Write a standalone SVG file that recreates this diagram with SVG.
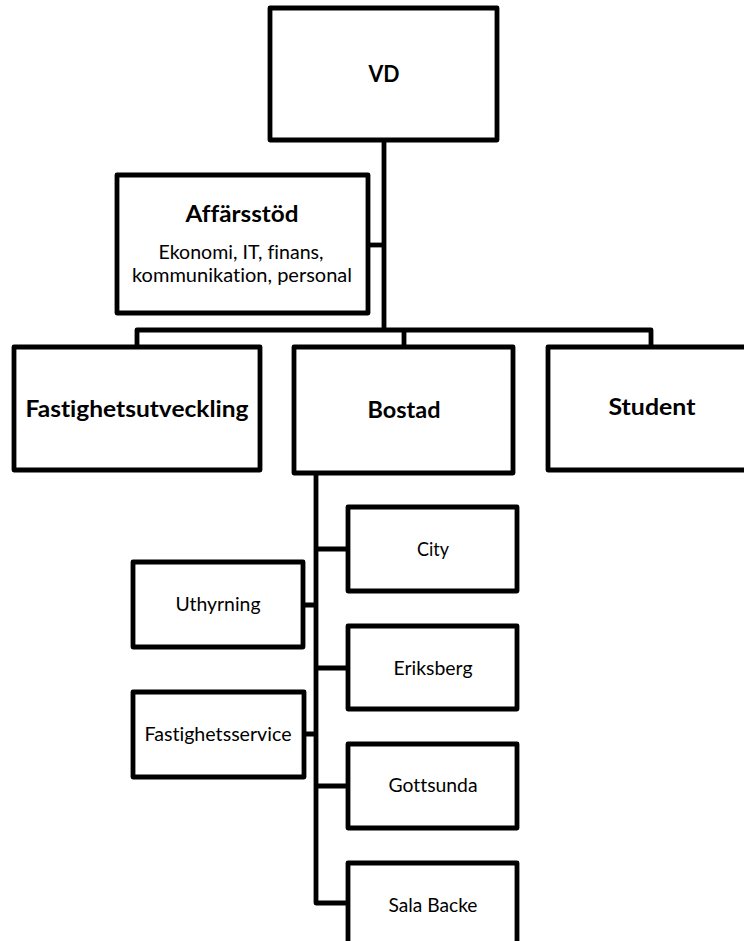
<svg xmlns="http://www.w3.org/2000/svg" width="744" height="941" viewBox="0 0 744 941">
<style>
.box{fill:#fff;stroke:#000;stroke-width:4.8;stroke-linejoin:round}
.con{fill:none;stroke:#000;stroke-width:4.8;stroke-linejoin:round}
.b{font-family:Lato,"Open Sans","Liberation Sans",sans-serif;font-weight:bold;font-size:22px;text-anchor:middle;fill:#000;font-variant-ligatures:none}
.r{font-family:Lato,"Open Sans","Liberation Sans",sans-serif;font-size:19.5px;text-anchor:middle;fill:#000;font-variant-ligatures:none}
</style>
<rect width="744" height="941" fill="#fff"/>
<g id="connectors">
<path class="con" d="M384 140V330"/>
<path class="con" d="M368 245H384"/>
<path class="con" d="M137 347V330H651V347"/>
<path class="con" d="M404 330V347"/>
<path class="con" d="M316 473V903H348"/>
<path class="con" d="M316 549H348M316 668H348M316 786H348"/>
<path class="con" d="M303 605H316M304 734H316"/>
</g>
<g id="vd"><rect class="box" x="270" y="8" width="227" height="132"/><text class="b" x="384" y="82" textLength="31" lengthAdjust="spacingAndGlyphs">VD</text></g>
<g id="affarsstod"><rect class="box" x="117" y="175" width="251" height="138"/>
<text class="b" x="242" y="222" textLength="113" lengthAdjust="spacingAndGlyphs">Affärsstöd</text>
<text class="r" x="241" y="259" textLength="165" lengthAdjust="spacingAndGlyphs">Ekonomi, IT, finans,</text>
<text class="r" x="242" y="282" textLength="220" lengthAdjust="spacingAndGlyphs">kommunikation, personal</text></g>
<g id="fastighetsutveckling"><rect class="box" x="14" y="347" width="246" height="123"/><text class="b" x="137" y="417" textLength="223" lengthAdjust="spacingAndGlyphs">Fastighetsutveckling</text></g>
<g id="bostad"><rect class="box" x="294" y="347" width="219" height="126"/><text class="b" x="404" y="418" textLength="73" lengthAdjust="spacingAndGlyphs">Bostad</text></g>
<g id="student"><rect class="box" x="548" y="347" width="210" height="123"/><text class="b" x="652" y="415" textLength="87" lengthAdjust="spacingAndGlyphs">Student</text></g>
<g id="city"><rect class="box" x="348" y="507" width="169" height="84"/><text class="r" x="433" y="556" textLength="32" lengthAdjust="spacingAndGlyphs">City</text></g>
<g id="eriksberg"><rect class="box" x="348" y="626" width="169" height="83"/><text class="r" x="433" y="675" textLength="79" lengthAdjust="spacingAndGlyphs">Eriksberg</text></g>
<g id="gottsunda"><rect class="box" x="348" y="744" width="169" height="84"/><text class="r" x="433" y="792" textLength="89" lengthAdjust="spacingAndGlyphs">Gottsunda</text></g>
<g id="salabacke"><rect class="box" x="348" y="863" width="169" height="100"/><text class="r" x="433" y="912" textLength="89" lengthAdjust="spacingAndGlyphs">Sala Backe</text></g>
<g id="uthyrning"><rect class="box" x="133" y="562" width="170" height="85"/><text class="r" x="218" y="611" textLength="85" lengthAdjust="spacingAndGlyphs">Uthyrning</text></g>
<g id="fastighetsservice"><rect class="box" x="133" y="692" width="171" height="85"/><text class="r" x="218" y="741" textLength="147" lengthAdjust="spacingAndGlyphs">Fastighetsservice</text></g>
</svg>
